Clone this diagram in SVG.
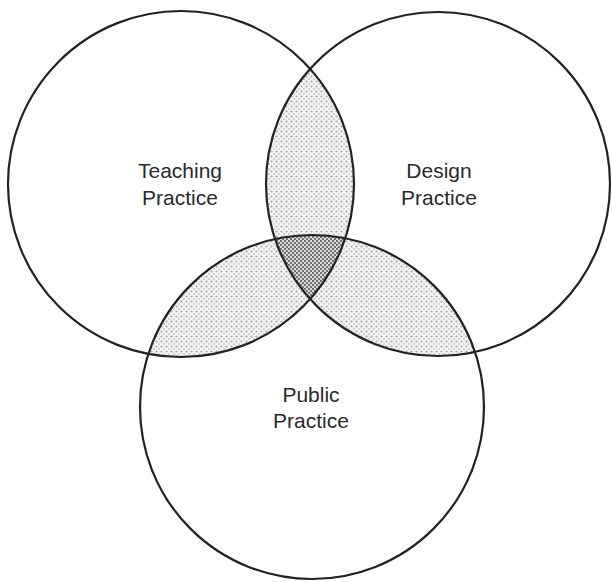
<svg xmlns="http://www.w3.org/2000/svg" width="612" height="582" viewBox="0 0 612 582">
<style>
.ring{fill:none;stroke:#222;stroke-width:2.2}
.lbl{font-family:"Liberation Sans",Arial,sans-serif;font-size:21px;fill:#2a2a2a;text-anchor:middle}
</style>
<defs>
<pattern id="light" width="5" height="5" patternUnits="userSpaceOnUse">
<rect width="5" height="5" fill="#f4f4f4"/>
<circle cx="1.5" cy="1.5" r="1.1" fill="#a8a8a8"/>
<circle cx="4" cy="4" r="0.9" fill="#c4c4c4"/>
</pattern>
<pattern id="dark" width="4" height="4" patternUnits="userSpaceOnUse">
<rect width="4" height="4" fill="#d8d8d8"/>
<circle cx="1" cy="1" r="1.1" fill="#666"/>
<circle cx="3" cy="3" r="1.1" fill="#666"/>
</pattern>
<clipPath id="cT"><circle cx="181" cy="184" r="173"/></clipPath>
<clipPath id="cD"><circle cx="438" cy="184" r="172"/></clipPath>
<clipPath id="cP"><circle cx="312" cy="407" r="172"/></clipPath>
</defs>
<rect width="612" height="582" fill="#fff"/>
<g id="overlaps">
<circle cx="438" cy="184" r="172" fill="url(#light)" clip-path="url(#cT)"/>
<circle cx="312" cy="407" r="172" fill="url(#light)" clip-path="url(#cT)"/>
<circle cx="312" cy="407" r="172" fill="url(#light)" clip-path="url(#cD)"/>
<g clip-path="url(#cT)"><circle cx="312" cy="407" r="172" fill="url(#dark)" clip-path="url(#cD)"/></g>
</g>
<g id="teaching">
<circle class="ring" cx="181" cy="184" r="173"/>
<text class="lbl" x="180" y="178">Teaching</text>
<text class="lbl" x="180" y="205">Practice</text>
</g>
<g id="design">
<circle class="ring" cx="438" cy="184" r="172"/>
<text class="lbl" x="439" y="178">Design</text>
<text class="lbl" x="439" y="205">Practice</text>
</g>
<g id="public">
<circle class="ring" cx="312" cy="407" r="172"/>
<text class="lbl" x="311" y="402">Public</text>
<text class="lbl" x="311" y="428">Practice</text>
</g>
<g id="connectors"/>
</svg>
